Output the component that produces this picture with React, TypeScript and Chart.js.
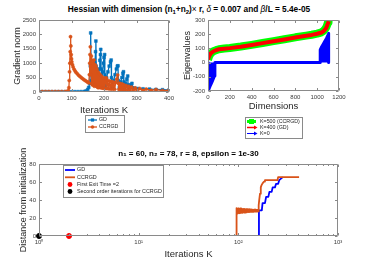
import React, { useEffect, useRef } from 'react';
import { Chart, registerables } from 'chart.js';

Chart.register(...registerables);

const FONT = "'Liberation Sans', Arial, Helvetica, sans-serif";
const AX = '#262626';
const TICK = '#404040';
const BOXC = '#8a8a8a';
const BLUE1 = '#0072BD';
const ORANGE = '#D95319';

// ---------- Top-left: gradient norm vs iterations ----------
const gdIter = [0,10,20,30,40,50,60,70,80,90,100,110,120,130,140,145,150,153,156,158,159,160,161,163,165,168,170,172,174,175,176,177,180,182,185,187,189,190,191,193,196,198,200,202,203,205,208,212,216,220,222,223,226,230,234,238,241,243,244,247,251,255,258,260,261,263,266,270,273,274,277,282,286,288,295,305,320,340,360,380,400];
const gdNorm = [10,10,10,10,10,10,10,10,10,10,10,12,12,14,20,35,90,160,300,900,2050,1000,400,800,300,700,250,1000,1400,1770,900,300,700,250,800,1100,1300,1480,800,250,700,1000,1200,1300,600,200,500,700,900,1050,1110,500,150,400,600,800,900,910,400,150,350,500,650,705,350,150,300,450,555,250,120,250,300,150,130,120,110,100,90,80,70];
const ccIter = [0,10,20,30,40,50,60,70,80,86,90,92,93,94,95,96,97,98,99,100,101,103,105,108,111,114,118,122,126,130,134,138,142,146,150,153,155,156,157,158,159,160,161,162,163,164,166,167,169,170,172,173,175,176,178,179,181,182,184,186,188,190,192,194,196,198,201,203,205,207,209,212,215,218,221,224,227,230,233,236,239,242,244,246,249,252,255,258,261,264,268,272,276,280,285,290,296,302,310,320,330,345,360,380,400];
const ccNorm = [15,15,15,15,15,15,15,15,15,20,40,150,400,700,1000,1400,1920,1600,1300,1150,1050,950,870,790,730,680,630,580,540,500,465,430,400,370,340,320,600,1000,1300,1570,900,600,1250,300,1100,250,1000,300,1110,200,950,250,900,200,800,180,700,150,650,160,600,150,550,140,500,130,480,120,450,490,120,400,110,380,100,360,100,340,95,330,450,590,300,90,300,85,280,80,250,80,220,75,200,70,170,65,140,60,120,60,100,55,85,50,60];

// ---------- Top-right: eigenvalues vs dimensions ----------
const eigDims = [0,10,25,50,75,100,150,200,300,400,500,600,700,800,900,950,1000,1040,1060,1080,1090,1100,1104];
const eigK500 = [20,44,64,80,88,94,99,103,113,125,138,151,164,178,190,196,204,213,224,243,262,285,300];
const eigK400 = [22,45,65,80,88,94,98,102,112,124,137,150,163,177,189,195,203,212,222,240,258,280,290];
const k0Dims = [0,1,10,20,30,40,50,58,62,64,1026,1028,1040,1055,1070,1085,1100,1104,1106,1115];
const k0Vals = [0,-200,-183,-165,-148,-130,-112,-95,-80,0,0,90,110,130,150,170,195,206,0,0];

// ---------- Bottom: distance from initialization ----------
const gdDistIter = [1,160,161,172,175,185,190,200,205,216,221,233,239,251,257,279];
const gdDist = [0,0,28.5,28.5,36.5,36.5,43.5,43.5,49,49,54,54,58,58,62,65.5];
const ccDistIter = [1,95,96,98,100,102,104,106,108,110,112,114,116,118,120,122,124,126,128,130,132,134,136,138,140,142,144,146,148,150,152,154,156,158,160,162,165,168,171,175,181,185,247,251,407];
const ccDist = [0,0,31,25,30.8,25.3,30.6,25.5,30.4,25.7,30.2,25.9,30,26.1,29.9,26.3,29.8,26.5,29.7,26.6,29.6,26.7,29.5,26.8,29.4,26.9,29.3,27,29.2,27.1,29.1,27.2,29,27.3,34,40,47,54,56.5,58.5,60.5,62,62,65.5,65.5];
const exitIter = [2];
const exitDist = [0];
const secondIter = [1];
const secondDist = [0];
const logMajor = [1, 10, 100, 1000];
const logLabels = ['10\u2070', '10\u00B9', '10\u00B2', '10\u00B3'];

const pts = (xs: number[], ys: number[]) => xs.map((x, i) => ({ x, y: ys[i] }));

const boxPlugin = {
  id: 'mbox',
  afterDatasetsDraw(chart: any) {
    const { ctx, chartArea: a, scales } = chart;
    const xs = scales.x, ys = scales.y;
    const L = Math.round(a.left) + 0.5, R = Math.round(a.right) - 0.5;
    const T = Math.round(a.top) + 0.5, B = Math.round(a.bottom) - 0.5;
    ctx.save();
    ctx.strokeStyle = BOXC;
    ctx.lineWidth = 1;
    ctx.beginPath();
    ctx.rect(L, T, R - L, B - T);
    xs.ticks.forEach((t: any) => {
      const lg = Math.log10(t.value);
      const major = xs.type !== 'logarithmic' || Math.abs(lg - Math.round(lg)) < 1e-9;
      const len = major ? 2.5 : 1.5;
      const p = Math.round(xs.getPixelForValue(t.value)) + 0.5;
      ctx.moveTo(p, B); ctx.lineTo(p, B - len);
      ctx.moveTo(p, T); ctx.lineTo(p, T + len);
    });
    ys.ticks.forEach((t: any) => {
      const p = Math.round(ys.getPixelForValue(t.value)) + 0.5;
      ctx.moveTo(L, p); ctx.lineTo(L + 2.5, p);
      ctx.moveTo(R, p); ctx.lineTo(R - 2.5, p);
    });
    ctx.stroke();
    ctx.restore();
  },
};

type LegItem = { label: string; color: string; lw: number; marker: string; y: number };
function legendPlugin(box: number[], lineX: number[], textX: number, items: LegItem[], fs: number) {
  return {
    id: 'mlegend',
    afterDraw(chart: any) {
      const ctx = chart.ctx;
      ctx.save();
      ctx.fillStyle = '#ffffff';
      ctx.fillRect(box[0], box[1], box[2] - box[0], box[3] - box[1]);
      ctx.strokeStyle = BOXC;
      ctx.lineWidth = 1;
      ctx.strokeRect(box[0] + 0.5, box[1] + 0.5, box[2] - box[0], box[3] - box[1]);
      items.forEach((it) => {
        const mx = (lineX[0] + lineX[1]) / 2;
        if (it.lw > 0) {
          ctx.strokeStyle = it.color;
          ctx.lineWidth = it.lw;
          ctx.beginPath();
          ctx.moveTo(lineX[0], it.y);
          ctx.lineTo(lineX[1], it.y);
          ctx.stroke();
        }
        ctx.fillStyle = it.color;
        if (it.marker === 'rect') {
          ctx.fillRect(mx - 1.6, it.y - 1.6, 3.2, 3.2);
        } else if (it.marker === 'bigrect') {
          ctx.fillRect(mx - 2.5, it.y - 2.5, 5, 5);
        } else if (it.marker === 'circle') {
          ctx.beginPath(); ctx.arc(mx, it.y, 1.7, 0, Math.PI * 2); ctx.fill();
        } else if (it.marker === 'dot') {
          ctx.beginPath(); ctx.arc(mx, it.y, 2.4, 0, Math.PI * 2); ctx.fill();
        } else if (it.marker === 'arrow') {
          ctx.beginPath();
          ctx.moveTo(lineX[1] + 1.5, it.y);
          ctx.lineTo(lineX[1] - 2, it.y - 2);
          ctx.lineTo(lineX[1] - 2, it.y + 2);
          ctx.closePath();
          ctx.fill();
        }
        ctx.fillStyle = AX;
        ctx.font = `${fs}px ${FONT}`;
        ctx.textBaseline = 'middle';
        ctx.textAlign = 'left';
        ctx.fillText(it.label, textX, it.y);
      });
      ctx.restore();
    },
  };
}

const tickFont = { family: FONT, size: 6 };
const plainNum = (v: number) => String(v);

function axis(opts: any) {
  const { min, max, step, title, tsize, tpad, size, isX, type } = opts;
  return {
    type: type || 'linear',
    min,
    max,
    ticks: {
      stepSize: step,
      font: tickFont,
      color: TICK,
      padding: 3,
      maxRotation: 0,
      autoSkip: false,
      callback: opts.cb || plainNum,
    },
    grid: { display: false, drawTicks: false },
    border: { display: false },
    title: {
      display: true,
      text: title,
      font: { family: FONT, size: tsize },
      color: AX,
      padding: isX ? { top: 0, bottom: tpad } : { top: tpad, bottom: 0 },
    },
    afterFit: (s: any) => {
      if (isX) s.height = size;
      else s.width = size;
    },
    ...(opts.abt ? { afterBuildTicks: opts.abt } : {}),
  };
}

function base(padding: any, title?: any) {
  return {
    responsive: false,
    animation: false as const,
    devicePixelRatio: 1,
    events: [] as any[],
    layout: { padding },
    elements: { line: { borderJoinStyle: 'round' as const } },
    plugins: {
      legend: { display: false },
      tooltip: { enabled: false },
      title: title || { display: false },
    },
  };
}

function cfgGrad(): any {
  return {
    type: 'line',
    data: {
      datasets: [
        {
          label: 'GD', data: pts(gdIter, gdNorm), borderColor: BLUE1, backgroundColor: BLUE1,
          borderWidth: 1.3, borderJoinStyle: 'round', pointStyle: 'rect', pointRadius: 2, pointBorderWidth: 0.5,
          pointBackgroundColor: BLUE1, pointBorderColor: BLUE1, order: 2,
        },
        {
          label: 'CCRGD', data: pts(ccIter, ccNorm), borderColor: ORANGE, backgroundColor: ORANGE,
          borderWidth: 1.3, borderJoinStyle: 'round', pointStyle: 'circle', pointRadius: 1.6, pointBorderWidth: 0.5,
          pointBackgroundColor: ORANGE, pointBorderColor: ORANGE, order: 1,
        },
      ],
    },
    options: {
      ...base({ left: 0, top: 20, right: 205, bottom: 149 }),
      scales: {
        x: axis({ min: 0, max: 400, step: 100, title: 'Iterations K', tsize: 9.5, tpad: 0.3, size: 24, isX: true }),
        y: axis({ min: 0, max: 2500, step: 500, title: 'Gradient norm', tsize: 9, tpad: 12, size: 39 }),
      },
    },
    plugins: [
      boxPlugin,
      legendPlugin([85, 115, 124, 132], [88, 97], 99, [
        { label: 'GD', color: BLUE1, lw: 1.3, marker: 'rect', y: 120 },
        { label: 'CCRGD', color: ORANGE, lw: 1.3, marker: 'circle', y: 127 },
      ], 5.3),
    ],
  };
}

function cfgEig(): any {
  return {
    type: 'line',
    data: {
      datasets: [
        { label: 'K=500 (CCRGD)', data: pts(eigDims, eigK500), borderColor: '#00FF00', borderWidth: 8, pointRadius: 0, order: 3 },
        { label: 'K=400 (GD)', data: pts(eigDims, eigK400), borderColor: '#FF0000', borderWidth: 4, pointRadius: 0, order: 2 },
        { label: 'K=0', data: pts(k0Dims, k0Vals), borderColor: '#0000FF', backgroundColor: '#0000FF', fill: 'origin', borderWidth: 3, pointRadius: 0, order: 1 },
      ],
    },
    options: {
      ...base({ left: 168, top: 20, right: 35, bottom: 152 }),
      scales: {
        x: axis({ min: 0, max: 1200, step: 200, title: 'Dimensions', tsize: 9.5, tpad: 1.3, size: 22, isX: true }),
        y: axis({ min: -200, max: 300, step: 100, title: 'Eigenvalues', tsize: 9, tpad: 14.6, size: 40 }),
      },
    },
    plugins: [
      boxPlugin,
      legendPlugin([245, 117, 302, 138], [247, 256], 260, [
        { label: 'K=500 (CCRGD)', color: '#00FF00', lw: 3, marker: 'bigrect', y: 121.5 },
        { label: 'K=400 (GD)', color: '#FF0000', lw: 1.5, marker: 'arrow', y: 127.5 },
        { label: 'K=0', color: '#0000FF', lw: 1, marker: 'arrow', y: 133.5 },
      ], 5.3),
    ],
  };
}

function cfgDist(): any {
  return {
    type: 'line',
    data: {
      datasets: [
        { label: 'GD', data: pts(gdDistIter, gdDist), borderColor: '#0000FF', borderWidth: 1.8, borderJoinStyle: 'round', pointRadius: 0, order: 4 },
        { label: 'CCRGD', data: pts(ccDistIter, ccDist), borderColor: ORANGE, borderWidth: 1.8, borderJoinStyle: 'round', pointRadius: 0, order: 3 },
        { label: 'First Exit Time =2', data: pts(exitIter, exitDist), showLine: false, pointRadius: 2.5, pointBackgroundColor: '#FF0000', pointBorderColor: '#FF0000', clip: false, order: 2 },
        { label: 'Second order iterations for CCRGD', data: pts(secondIter, secondDist), showLine: false, pointRadius: 2.5, pointBackgroundColor: '#000000', pointBorderColor: '#000000', clip: false, order: 1 },
      ],
    },
    options: {
      ...base({ left: 0, top: 149, right: 36, bottom: 5 }, {
        display: true,
        text: 'n\u2081 = 60, n\u2082 = 78, r = 8, epsilon = 1e-30',
        font: { family: FONT, size: 8, weight: 'bold' },
        color: '#000000',
        padding: { top: 0, bottom: 5.4 },
        fullSize: false,
      }),
      scales: {
        x: axis({
          type: 'logarithmic', min: 1, max: 1000, title: 'Iterations K', tsize: 9.5, tpad: 0.3, size: 24, isX: true,
          abt: (s: any) => {
            const t: any[] = [];
            logMajor.forEach((m, i) => {
              t.push({ value: m });
              if (i < logMajor.length - 1) for (let k = 2; k <= 9; k++) t.push({ value: m * k });
            });
            s.ticks = t;
          },
          cb: (v: number) => {
            const i = logMajor.indexOf(v);
            return i >= 0 ? logLabels[i] : '';
          },
        }),
        y: axis({ min: 0, max: 80, step: 20, title: 'Distance from initialization', tsize: 9, tpad: 17.8, size: 39 }),
      },
    },
    plugins: [
      boxPlugin,
      legendPlugin([63, 165, 163, 197], [65, 75], 77, [
        { label: 'GD', color: '#0000FF', lw: 1.8, marker: 'none', y: 170 },
        { label: 'CCRGD', color: ORANGE, lw: 1.8, marker: 'none', y: 177.3 },
        { label: 'First Exit Time =2', color: '#FF0000', lw: 0, marker: 'dot', y: 184.5 },
        { label: 'Second order iterations for CCRGD', color: '#000000', lw: 0, marker: 'dot', y: 191.5 },
      ], 5.4),
    ],
  };
}

export default function App() {
  const r1 = useRef<HTMLCanvasElement>(null);
  const r2 = useRef<HTMLCanvasElement>(null);
  const r3 = useRef<HTMLCanvasElement>(null);
  useEffect(() => {
    const charts = [
      new Chart(r1.current as HTMLCanvasElement, cfgGrad()),
      new Chart(r2.current as HTMLCanvasElement, cfgEig()),
      new Chart(r3.current as HTMLCanvasElement, cfgDist()),
    ];
    return () => charts.forEach((c) => c.destroy());
  }, []);
  const cs: React.CSSProperties = { position: 'absolute', left: 0, top: 0 };
  const sub: React.CSSProperties = { fontSize: '6px', verticalAlign: '-2px', lineHeight: 0 };
  return (
    <div style={{ position: 'absolute', left: 0, top: 0, width: 374, height: 265, background: '#fff', overflow: 'hidden' }}>
      <div
        style={{
          position: 'absolute', left: 0, top: 4, width: 378, textAlign: 'center', whiteSpace: 'nowrap',
          fontFamily: FONT, fontWeight: 'bold', fontSize: '8.3px', lineHeight: '10px', color: '#000',
        }}
      >
        Hessian with dimension (n<span style={sub}>1</span>+n<span style={sub}>2</span>)
        <span style={{ fontWeight: 'normal' }}>×</span> r, <i style={{ fontWeight: 'normal' }}>δ</i> = 0.007 and{' '}
        <i style={{ fontWeight: 'normal' }}>β</i>/L = 5.4e-05
      </div>
      <canvas ref={r1} width={374} height={265} style={cs} />
      <canvas ref={r2} width={374} height={265} style={cs} />
      <canvas ref={r3} width={374} height={265} style={cs} />
    </div>
  );
}
